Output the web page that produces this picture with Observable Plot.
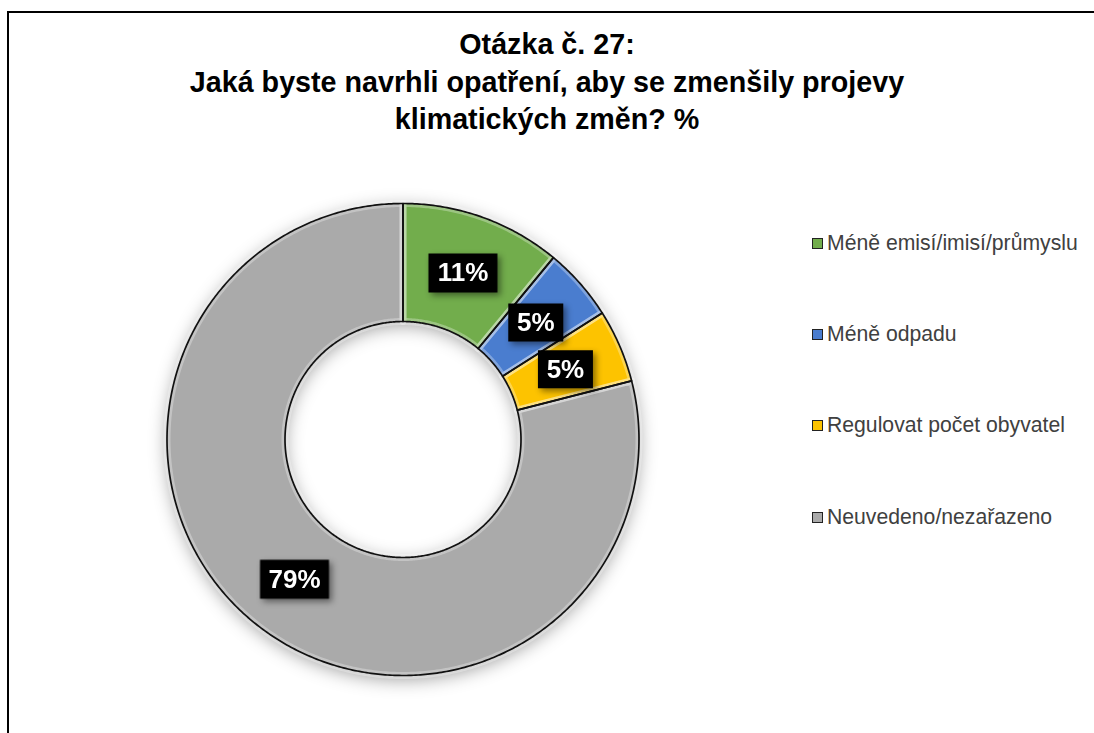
<!DOCTYPE html>
<html><head><meta charset="utf-8">
<script src="https://cdn.jsdelivr.net/npm/d3@7"></script>
<script src="https://cdn.jsdelivr.net/npm/@observablehq/plot@0.6"></script>
<style>
html,body{margin:0;padding:0;background:#fff;overflow:hidden;width:1094px;height:733px;}
#wrap{position:relative;width:1094px;height:733px;overflow:hidden;font-family:"Liberation Sans",Arial,sans-serif;}
#ftop{position:absolute;left:7px;top:11px;width:1200px;height:2px;background:#000;}
#fleft{position:absolute;left:7px;top:11px;width:2px;height:800px;background:#000;}
#chart{position:absolute;left:0;top:0;width:1094px;height:733px;}
#chart svg{display:block;}
#title{position:absolute;left:0;width:1094px;top:26px;text-align:center;font-weight:bold;font-size:28.7px;line-height:37.5px;color:#000;}
.leg{position:absolute;left:812px;height:24px;line-height:24px;font-size:21.2px;color:#404040;white-space:nowrap;display:flex;align-items:center;}
.sw{width:9px;height:9px;border:1.5px solid #222;margin-right:4px;}
</style></head>
<body><div id="wrap"><div id="ftop"></div><div id="fleft"></div><div id="chart"></div><div id="title"></div></div>
<script>
const titleLines = ["Otázka č. 27:", "Jaká byste navrhli opatření, aby se zmenšily projevy", "klimatických změn? %"];
const categories = ["Méně emisí/imisí/průmyslu", "Méně odpadu", "Regulovat počet obyvatel", "Neuvedeno/nezařazeno"];
const values = [11, 5, 5, 79];
const labels = ["11%", "5%", "5%", "79%"];
const colors = ["#72ad4c", "#4a7dcf", "#fdc300", "#aaaaaa"];

const wrap = document.getElementById("wrap");
document.getElementById("title").innerHTML = titleLines.join("<br>");

// legend
const legendY = [243, 334, 425, 517];
categories.forEach((c, i) => {
  const d = document.createElement("div");
  d.className = "leg";
  d.style.top = (legendY[i] - 12) + "px";
  d.innerHTML = `<span class="sw" style="background:${colors[i]}"></span>${c}`;
  wrap.appendChild(d);
});

// donut geometry in unit coordinates
const inner = 0.5, outer = 1;
const pie = d3.pie().sort(null).value(d => d.value).startAngle(0).endAngle(2 * Math.PI);
const arcs = pie(categories.map((c, i) => ({cat: c, value: values[i], label: labels[i]})));
const pts = [];
for (const a of arcs) {
  const n = Math.max(8, Math.ceil((a.endAngle - a.startAngle) / 0.01));
  for (let k = 0; k <= n; k++) {
    const t = a.startAngle + (a.endAngle - a.startAngle) * k / n;
    pts.push({cat: a.data.cat, x: outer * Math.sin(t), y: outer * Math.cos(t)});
  }
  for (let k = n; k >= 0; k--) {
    const t = a.startAngle + (a.endAngle - a.startAngle) * k / n;
    pts.push({cat: a.data.cat, x: inner * Math.sin(t), y: inner * Math.cos(t)});
  }
}
const labelPts = arcs.map(a => {
  const m = (a.startAngle + a.endAngle) / 2, r = (inner + outer) / 2;
  return {label: a.data.label, x: r * Math.sin(m), y: r * Math.cos(m)};
});
const boxSym = (w, h) => ({draw(ctx) { ctx.rect(-w / 2, -h / 2, w, h); }});

const cx = 402.5, cy = 439, R = 236;
const chart = Plot.plot({
  width: 1094, height: 733, margin: 0,
  x: {domain: [-1, 1], range: [cx - R, cx + R], axis: null},
  y: {domain: [-1, 1], range: [cy + R, cy - R], axis: null},
  color: {domain: categories, range: colors},
  style: {background: "transparent"},
  marks: [
    Plot.line(pts, {x: "x", y: "y", z: "cat", fill: "cat", stroke: "none", curve: "linear-closed"}),
    Plot.line(pts, {x: "x", y: "y", z: "cat", fill: "none", stroke: "white", strokeOpacity: 0.3, strokeWidth: 7, curve: "linear-closed"}),
    Plot.line(pts, {x: "x", y: "y", z: "cat", fill: "none", stroke: "#111", strokeWidth: 1.7, curve: "linear-closed"}),
    Plot.dot(labelPts.filter(d => d.label.length > 2), {x: "x", y: "y", symbol: boxSym(69, 39), fill: "black", stroke: "none"}),
    Plot.dot(labelPts.filter(d => d.label.length <= 2), {x: "x", y: "y", symbol: boxSym(55, 38), fill: "black", stroke: "none"}),
    Plot.text(labelPts, {x: "x", y: "y", text: "label", fill: "white", fontWeight: "bold", fontSize: 26, fontFamily: "Liberation Sans, Arial, sans-serif"})
  ]
});
document.getElementById("chart").appendChild(chart);
const lines = chart.querySelectorAll('g[aria-label="line"]');
lines[0].style.filter = "drop-shadow(0px 4px 9px rgba(0,0,0,0.38))";
chart.querySelectorAll('g[aria-label="dot"]').forEach(g => g.style.filter = "drop-shadow(3px 3px 3px rgba(0,0,0,0.45))");
</script></body></html>
